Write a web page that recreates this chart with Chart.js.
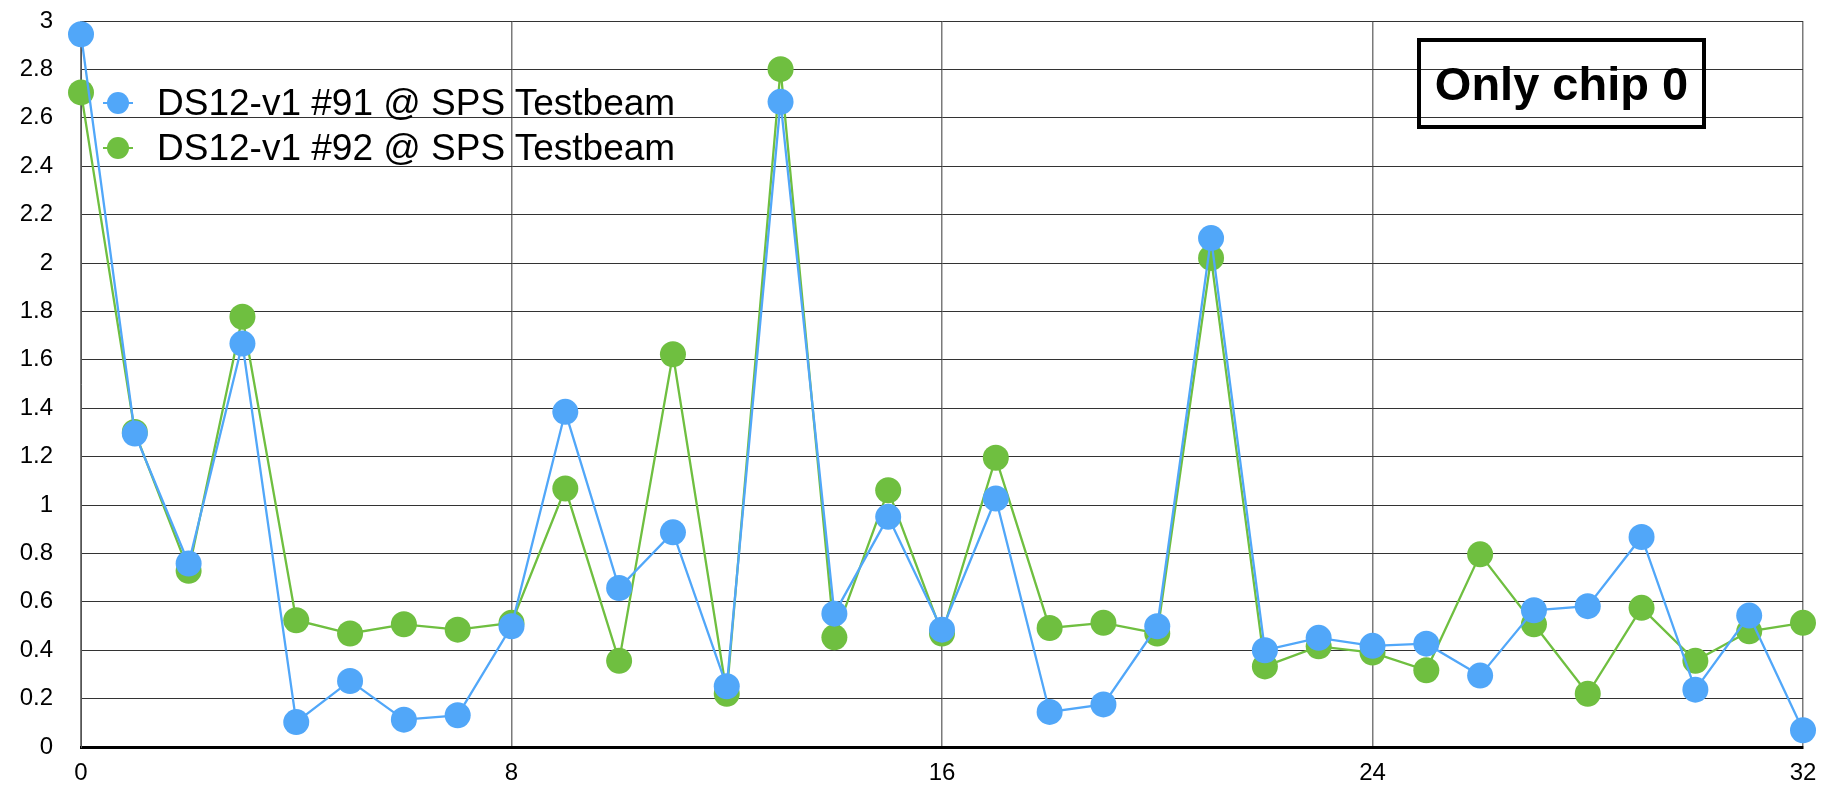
<!DOCTYPE html>
<html>
<head>
<meta charset="utf-8">
<title>DS12-v1 SPS Testbeam</title>
<script src="https://cdn.jsdelivr.net/npm/chart.js@4.4.1/dist/chart.umd.min.js"></script>
<style>
  html, body { margin: 0; padding: 0; background: #fff; }
  #wrap { position: relative; width: 1823px; height: 785px; }
  #legend {
    position: absolute; left: 103px; top: 80px;
    font-family: "Liberation Sans", Arial, sans-serif; font-size: 37px; color: #000;
  }
  .row { display: flex; align-items: center; height: 45px; white-space: nowrap; }
  .mark { position: relative; width: 30px; height: 22px; margin-right: 24px; }
  .mark .ln { position: absolute; left: 0; right: 0; top: 10px; height: 2px; }
  .mark .dot { position: absolute; left: 4px; top: 0; width: 22px; height: 22px; border-radius: 50%; }
  #note {
    position: absolute; left: 1417px; top: 38px; width: 289px; height: 91px;
    box-sizing: border-box; border: 4px solid #000;
    font-family: "Liberation Sans", Arial, sans-serif; font-weight: bold; font-size: 47px;
    display: flex; align-items: center; justify-content: center; color: #000;
  }
</style>
</head>
<body>
<div id="wrap">
  <canvas id="chart" width="1823" height="785"></canvas>
  <div id="legend"></div>
  <div id="note">Only chip 0</div>
</div>
<script>
// channel index on the x axis
const channels = [0, 1, 2, 3, 4, 5, 6, 7, 8, 9, 10, 11, 12, 13, 14, 15, 16,
                  17, 18, 19, 20, 21, 22, 23, 24, 25, 26, 27, 28, 29, 30, 31, 32];

const chip91 = [2.945, 1.295, 0.758, 1.667, 0.103, 0.273, 0.113, 0.131, 0.499, 1.385, 0.657,
                0.887, 0.251, 2.666, 0.551, 0.951, 0.485, 1.027, 0.145, 0.176, 0.499, 2.103,
                0.400, 0.451, 0.418, 0.427, 0.295, 0.565, 0.582, 0.868, 0.237, 0.543, 0.069];

const chip92 = [2.705, 1.302, 0.728, 1.778, 0.524, 0.469, 0.507, 0.485, 0.513, 1.068, 0.356,
                1.623, 0.220, 2.801, 0.453, 1.061, 0.469, 1.195, 0.492, 0.513, 0.469, 2.021,
                0.333, 0.416, 0.390, 0.317, 0.796, 0.507, 0.220, 0.575, 0.356, 0.478, 0.513];

const seriesNames = ['DS12-v1 #91 @ SPS Testbeam', 'DS12-v1 #92 @ SPS Testbeam'];

const xTicks = [0, 8, 16, 24, 32];
const yTicks = [0, 0.2, 0.4, 0.6, 0.8, 1, 1.2, 1.4, 1.6, 1.8, 2, 2.2, 2.4, 2.6, 2.8, 3];

const BLUE = '#51a7f9';
const GREEN = '#6fbf40';

function toPoints(values) {
    return values.map((v, i) => ({ x: channels[i], y: v }));
}

function makeSeries(label, values, color) {
    return {
        label: label,
        data: toPoints(values),
        borderColor: color,
        backgroundColor: color,
        borderWidth: 2.3,
        pointRadius: 13,
        pointBorderWidth: 0,
        pointBackgroundColor: color,
        tension: 0,
        clip: false
    };
}

const tickFont = { family: '"Liberation Sans", Arial, sans-serif', size: 24 };

const chart = new Chart(document.getElementById('chart'), {
    type: 'line',
    data: {
        datasets: [
            makeSeries(seriesNames[0], chip91, BLUE),
            makeSeries(seriesNames[1], chip92, GREEN)
        ]
    },
    options: {
        responsive: false,
        animation: false,
        layout: { padding: { left: 0, right: 20, top: 21, bottom: 0 } },
        plugins: {
            legend: { display: false },
            tooltip: { enabled: false }
        },
        scales: {
            x: {
                type: 'linear',
                min: 0,
                max: 32,
                afterBuildTicks: (scale) => { scale.ticks = xTicks.map(v => ({ value: v })); },
                afterFit: (scale) => { scale.height = 38; },
                ticks: { font: tickFont, color: '#000', padding: 0, maxRotation: 0, callback: (v) => String(v) },
                // invisible tick marks only used to push the labels down
                grid: { color: '#7a7a7a', lineWidth: 1.5, drawTicks: true, tickLength: 12, tickColor: 'rgba(0,0,0,0)' },
                border: { display: true, color: '#000', width: 3 }
            },
            y: {
                type: 'linear',
                min: 0,
                max: 3,
                afterBuildTicks: (scale) => { scale.ticks = yTicks.map(v => ({ value: v })); },
                afterFit: (scale) => { scale.width = 81; },
                ticks: { font: tickFont, color: '#000', padding: 0, callback: (v) => String(v) },
                grid: { color: '#333', lineWidth: 1, drawTicks: true, tickLength: 28, tickColor: 'rgba(0,0,0,0)' },
                border: { display: true, color: '#555', width: 1 }
            }
        }
    }
});

// html legend built from the datasets
const legendBox = document.getElementById('legend');
chart.data.datasets.forEach(ds => {
    const row = document.createElement('div');
    row.className = 'row';
    row.innerHTML = '<span class="mark"><span class="ln" style="background:' + ds.borderColor +
        '"></span><span class="dot" style="background:' + ds.borderColor + '"></span></span>' +
        '<span>' + ds.label + '</span>';
    legendBox.appendChild(row);
});
</script>
</body>
</html>
